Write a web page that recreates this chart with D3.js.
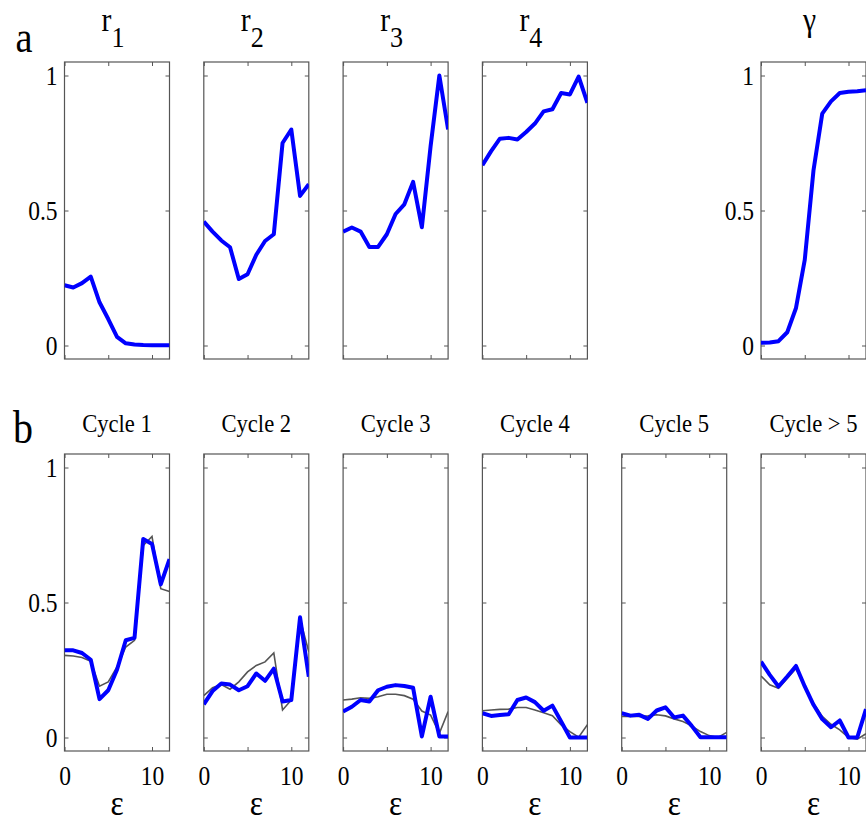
<!DOCTYPE html>
<html lang="en">
<head>
  <meta charset="UTF-8">
  <title>Cycle rates</title>
  <style>
    body { margin: 0; background: #ffffff; }
    svg text { font-family: 'Liberation Serif', 'Times New Roman', serif; fill: #000; }
    .box { fill: none; stroke: #555; stroke-width: 1.2; }
    .tick line { stroke: #555; stroke-width: 1; }
    .domain { display: none; }
    .obs { fill: none; stroke: #0000ff; stroke-width: 4; stroke-linejoin: round; }
    .fit { fill: none; stroke: #555; stroke-width: 1.6; }
  </style>
  <script src="https://d3js.org/d3.v7.min.js"></script>
</head>
<body>
  <div id="chart"></div>
  <script>
    const W = 866, H = 825;

    // epsilon grid
    const eps = [0, 1, 2, 3, 4, 5, 6, 7, 8, 9, 10, 11, 12];

    // panel a
    const r1    = [0.223, 0.215, 0.231, 0.255, 0.160, 0.098, 0.032, 0.008, 0.004, 0.002, 0.001, 0.001, 0.001];
    const r2    = [0.459, 0.422, 0.389, 0.364, 0.246, 0.264, 0.336, 0.387, 0.412, 0.750, 0.800, 0.554, 0.597];
    const r3    = [0.422, 0.437, 0.422, 0.365, 0.365, 0.412, 0.487, 0.523, 0.606, 0.438, 0.738, 1.000, 0.800];
    const r4    = [0.668, 0.720, 0.766, 0.769, 0.763, 0.791, 0.822, 0.867, 0.875, 0.935, 0.930, 0.996, 0.899];
    const gamma = [0.010, 0.011, 0.016, 0.049, 0.139, 0.317, 0.649, 0.859, 0.904, 0.935, 0.940, 0.942, 0.945];

    // panel b, observed (blue) and model (grey)
    const c1Obs = [0.323, 0.323, 0.313, 0.288, 0.142, 0.175, 0.251, 0.360, 0.369, 0.735, 0.717, 0.567, 0.661];
    const c1Fit = [0.304, 0.302, 0.296, 0.282, 0.190, 0.206, 0.261, 0.335, 0.360, 0.711, 0.745, 0.551, 0.541];
    const c2Obs = [0.123, 0.172, 0.200, 0.196, 0.175, 0.190, 0.237, 0.210, 0.255, 0.133, 0.139, 0.445, 0.225];
    const c2Fit = [0.155, 0.184, 0.196, 0.179, 0.206, 0.243, 0.267, 0.280, 0.313, 0.102, 0.139, 0.439, 0.317];
    const c3Obs = [0.096, 0.114, 0.139, 0.133, 0.175, 0.188, 0.194, 0.191, 0.184, 0.004, 0.151, 0.004, 0.004];
    const c3Fit = [0.139, 0.142, 0.147, 0.145, 0.151, 0.160, 0.160, 0.155, 0.142, 0.098, 0.083, 0.016, 0.096];
    const c4Obs = [0.090, 0.080, 0.083, 0.086, 0.139, 0.148, 0.131, 0.099, 0.118, 0.059, 0.000, 0.000, 0.000];
    const c4Fit = [0.099, 0.102, 0.104, 0.105, 0.111, 0.111, 0.102, 0.092, 0.081, 0.047, 0.022, 0.001, 0.047];
    const c5Obs = [0.090, 0.081, 0.084, 0.069, 0.100, 0.112, 0.074, 0.081, 0.043, 0.001, 0.001, 0.001, 0.001];
    const c5Fit = [0.078, 0.078, 0.078, 0.080, 0.084, 0.080, 0.069, 0.059, 0.043, 0.022, 0.007, 0.000, 0.019];
    const c6Obs = [0.281, 0.232, 0.189, 0.226, 0.265, 0.189, 0.121, 0.068, 0.038, 0.063, 0.000, 0.000, 0.105];
    const c6Fit = [0.228, 0.195, 0.182, 0.219, 0.256, 0.189, 0.127, 0.078, 0.049, 0.028, 0.000, -0.006, 0.014];

    const yTicks = [0, 0.5, 1];
    const xTicks = [0, 5, 10];

    const topPanels = [
      { name: 'r', sub: '1', col: 0, obs: r1, yLab: true },
      { name: 'r', sub: '2', col: 1, obs: r2 },
      { name: 'r', sub: '3', col: 2, obs: r3 },
      { name: 'r', sub: '4', col: 3, obs: r4 },
      { name: 'γ', sub: '',  col: 5, obs: gamma, yLab: true }
    ];
    const botPanels = [
      { name: 'Cycle 1',   col: 0, obs: c1Obs, fit: c1Fit, yLab: true },
      { name: 'Cycle 2',   col: 1, obs: c2Obs, fit: c2Fit },
      { name: 'Cycle 3',   col: 2, obs: c3Obs, fit: c3Fit },
      { name: 'Cycle 4',   col: 3, obs: c4Obs, fit: c4Fit },
      { name: 'Cycle 5',   col: 4, obs: c5Obs, fit: c5Fit },
      { name: 'Cycle > 5', col: 5, obs: c6Obs, fit: c6Fit }
    ];

    const colX = c => 64.5 + c * 139.3,
          pw = 105,
          ph = 297,
          rowY = [62, 454];

    const x = d3.scaleLinear().domain([0, 12]).range([0, pw]);
    const y = d3.scaleLinear().domain([-0.05, 1.05]).range([ph, 0]);
    const line = d3.line().x((d, i) => x(eps[i])).y(d => y(d));

    const svg = d3.select('#chart').append('svg')
      .attr('width', W).attr('height', H);

    const SX = 0.87;
    function txt(g, px, py, s, size, anchor) {
      return g.append('text')
        .attr('transform', `translate(${px},${py}) scale(${SX},1)`)
        .attr('text-anchor', anchor || 'middle')
        .style('font-size', size + 'px')
        .text(s);
    }

    function panel(p, row, k) {
      const g = svg.append('g').attr('transform', `translate(${colX(p.col)},${rowY[row]})`);
      const id = `clip${row}_${k}`;
      g.append('clipPath').attr('id', id)
        .append('rect').attr('width', pw).attr('height', ph);

      // inward ticks on all four sides
      g.append('g').call(d3.axisLeft(y).tickValues(yTicks).tickSize(-4).tickPadding(7)
          .tickFormat(p.yLab ? d3.format('') : () => ''))
        .call(a => a.selectAll('text').style('font-size', '27px')
          .attr('transform', `scale(${SX},1)`).attr('x', -7 / SX));
      g.append('g').attr('transform', `translate(${pw},0)`)
        .call(d3.axisRight(y).tickValues(yTicks).tickSize(-4).tickFormat(() => ''));
      g.append('g')
        .call(d3.axisTop(x).tickValues(xTicks).tickSize(-4).tickFormat(() => ''));
      g.append('g').attr('transform', `translate(0,${ph})`)
        .call(d3.axisBottom(x).tickValues(xTicks).tickSize(-4).tickPadding(15)
          .tickFormat(row === 1 ? (d => d === 5 ? '' : d) : () => ''))
        .call(a => a.selectAll('text').style('font-size', '27px')
          .attr('transform', `scale(${SX},1)`));

      g.append('rect').attr('class', 'box').attr('width', pw).attr('height', ph);

      const lines = g.append('g').attr('clip-path', `url(#${id})`);
      if (p.fit) lines.append('path').attr('class', 'fit').attr('d', line(p.fit));
      lines.append('path').attr('class', 'obs').attr('d', line(p.obs));

      if (row === 0) {
        const t = txt(g, pw / 2 - 4, -31, '', 34);
        t.append('tspan').text(p.name);
        if (p.sub) t.append('tspan').attr('dy', 16).style('font-size', '30px').text(p.sub);
      } else {
        txt(g, pw / 2, -22, p.name, 26);
        txt(g, pw / 2, ph + 64, 'ε', 36);
      }
    }

    topPanels.forEach((p, i) => panel(p, 0, i));
    botPanels.forEach((p, i) => panel(p, 1, i));

    txt(svg, 24, 52, 'a', 44);
    txt(svg, 23, 443, 'b', 46);
  </script>
</body>
</html>
